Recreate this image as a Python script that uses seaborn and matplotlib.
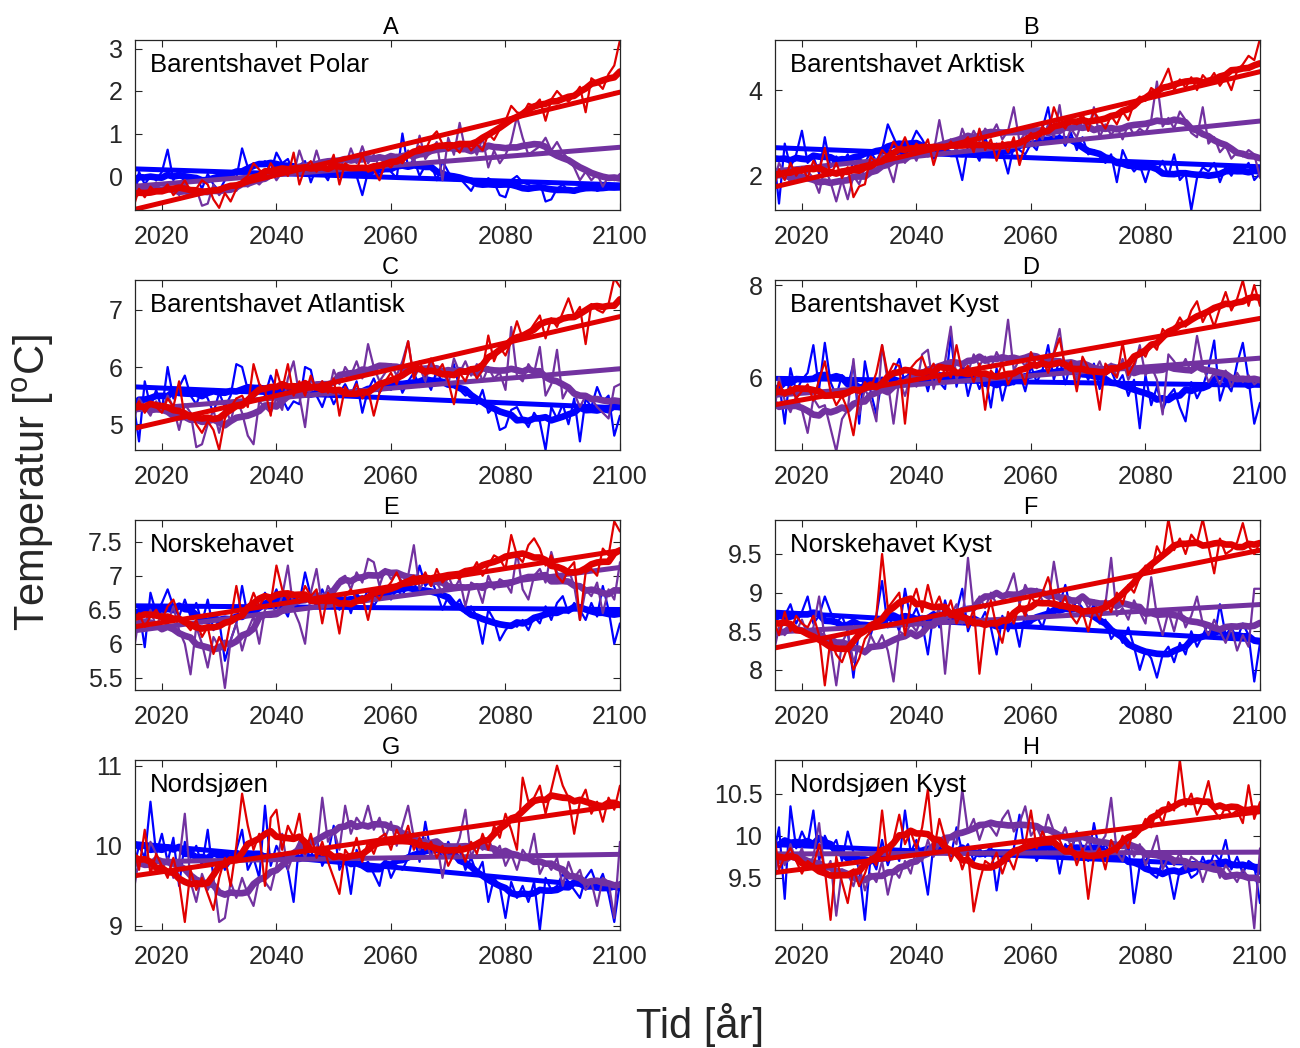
import numpy as np
import pandas as pd
import matplotlib
matplotlib.use("Agg")
import matplotlib.pyplot as plt
import seaborn as sns

years = list(range(2015, 2101))

# ---- A: Barentshavet Polar ----
a_blue = [-0.70, 0.10, -0.20, 0.00, -0.10, 0.10, 0.62, -0.10, 0.15, -0.20,
          -0.10, 0.00, -0.30, 0.05, -0.20, -0.35, -0.10, 0.05, -0.05, 0.65,
          0.20, 0.30, 0.25, 0.35, 0.10, 0.55, 0.30, 0.40, 0.05, 0.25,
          0.35, -0.15, 0.20, 0.10, -0.10, 0.30, 0.05, 0.20, 0.15, 0.00,
          -0.45, 0.10, 0.20, 0.00, 0.30, 0.10, -0.05, 1.00, 0.20, 0.40,
          0.00, 0.25, 0.30, -0.10, 0.35, 0.10, -0.10, -0.05, -0.20, -0.35,
          -0.10, -0.20, -0.05, -0.15, -0.45, -0.50, -0.10, 0.00, -0.15, -0.20,
          -0.30, -0.15, -0.60, -0.55, -0.30, -0.20, -0.35, -0.40, -0.25, -0.30,
          -0.20, -0.35, -0.30, -0.20, -0.30, -0.25]
a_purple = [-0.65, -0.30, -0.20, -0.35, -0.15, -0.40, -0.25, -0.30, -0.45, -0.20,
            -0.35, -0.30, -0.70, -0.65, -0.20, -0.45, -0.30, -0.20, -0.35, -0.15,
            -0.25, -0.10, -0.20, -0.05, 0.15, -0.10, 0.10, 0.20, 0.05, 0.60,
            0.20, 0.10, 0.60, 0.15, 0.35, 0.25, 0.40, 0.20, 0.65, 0.30,
            0.70, 0.30, 0.50, 0.20, 0.45, 0.35, 0.50, 0.30, 0.60, 0.30,
            0.95, 0.40, 0.60, 0.80, -0.10, 0.90, 0.50, 1.25, 0.60, 0.80,
            0.50, 0.90, 0.20, 0.60, 0.30, 0.50, 0.80, 1.40, 0.90, 0.50,
            0.60, 0.70, 0.90, 0.60, 0.80, 0.55, 0.40, 0.20, -0.10, 0.10,
            -0.10, 0.05, -0.25, 0.00, -0.10, 0.05]
a_red = [-0.75, -0.30, -0.50, -0.25, -0.40, -0.35, -0.20, -0.45, -0.30, -0.10,
         -0.35, -0.30, -0.10, -0.20, -0.55, -0.75, -0.40, -0.60, -0.30, -0.10,
         0.00, 0.30, 0.15, 0.00, 0.30, 0.10, 0.20, 0.00, 0.55, -0.20,
         0.20, 0.35, 0.10, 0.30, 0.15, 0.50, -0.20, 0.30, 0.20, 0.15,
         0.50, 0.10, 0.15, -0.10, 0.30, 0.20, 0.40, 0.30, 0.50, 0.60,
         0.70, 0.60, 0.90, 1.05, 0.75, 0.60, 0.70, 0.55, 0.80, 0.60,
         0.75, 0.60, 1.00, 0.85, 1.10, 1.30, 1.65, 1.50, 1.45, 1.70,
         1.65, 1.80, 1.30, 1.80, 2.00, 1.85, 1.75, 1.90, 2.10, 1.50,
         2.30, 2.20, 2.05, 2.40, 2.60, 3.20]

# ---- B: Barentshavet Arktisk ----
b_blue = [2.6, 1.35, 2.75, 2.2, 2.5, 3.05, 2.3, 2.45, 2.05, 2.9,
          2.2, 2.45, 2.3, 2.5, 2.15, 2.4, 2.3, 2.55, 2.35, 2.6,
          3.2, 2.9, 2.6, 2.8, 2.75, 3.05, 2.85, 2.6, 2.4, 2.55,
          2.7, 2.5, 2.45, 1.9, 2.7, 2.6, 2.35, 2.9, 2.5, 2.75,
          2.55, 2.05, 2.7, 2.6, 2.5, 2.75, 2.6, 3.1, 3.6, 2.8,
          2.95, 2.7, 3.0, 2.6, 2.9, 2.5, 2.6, 2.45, 2.3, 2.5,
          1.85, 2.6, 2.3, 2.1, 2.25, 1.85, 2.3, 2.1, 2.35, 2.0,
          2.5, 1.9, 2.05, 1.2, 1.95, 2.2, 2.1, 2.3, 1.85, 2.2,
          2.0, 2.25, 2.1, 2.3, 1.9, 2.05]
b_purple = [1.75, 2.3, 2.05, 1.85, 2.15, 1.9, 2.1, 1.95, 1.6, 2.2,
            1.85, 1.4, 1.9, 1.45, 2.0, 1.8, 2.2, 2.35, 2.1, 2.5,
            2.25, 1.85, 2.5, 2.3, 2.6, 2.35, 2.7, 2.45, 2.55, 3.3,
            2.6, 2.85, 2.55, 3.1, 2.75, 3.05, 2.8, 3.1, 2.95, 3.2,
            2.85, 3.05, 3.6, 2.8, 3.0, 2.7, 3.1, 2.85, 3.2, 2.9,
            3.65, 2.75, 3.1, 2.9, 3.3, 3.05, 3.6, 2.9, 3.2, 2.95,
            3.15, 2.85, 3.2, 2.95, 3.1, 3.0, 3.3, 4.2, 3.15, 3.35,
            3.1, 3.5, 3.3, 3.0, 2.9, 3.6, 2.75, 2.9, 2.55, 2.7,
            2.4, 2.55, 2.45, 2.6, 2.5, 1.95]
b_red = [1.7, 2.15, 1.9, 2.3, 2.0, 2.2, 1.95, 2.35, 2.1, 2.65,
         2.0, 2.3, 1.95, 2.2, 1.5, 1.75, 1.8, 2.45, 2.3, 2.6,
         2.45, 2.8, 2.6, 2.9, 2.55, 2.75, 2.6, 2.85, 2.25, 2.7,
         2.6, 2.8, 2.65, 2.75, 2.9, 2.55, 3.1, 2.6, 2.85, 2.35,
         2.8, 2.55, 2.9, 2.25, 2.75, 3.0, 2.85, 3.15, 3.0, 3.6,
         3.25, 3.1, 3.35, 3.2, 3.45, 3.05, 3.5, 3.3, 3.1, 3.4,
         3.2, 3.5, 3.3, 3.7, 3.85, 3.75, 4.05, 3.95, 4.2, 4.5,
         4.0, 4.25, 4.05, 4.3, 4.0, 4.35, 4.2, 4.4, 4.1, 4.3,
         4.0, 4.45, 4.6, 4.8, 4.7, 5.2]

# ---- C: Barentshavet Atlantisk ----
c_blue = [5.4, 4.7, 5.75, 5.3, 5.6, 5.25, 6.0, 5.45, 5.65, 5.85,
          5.5, 5.35, 5.6, 5.45, 5.2, 5.55, 5.3, 5.5, 6.05, 6.0,
          5.6, 5.45, 5.7, 5.5, 5.85, 5.6, 5.45, 5.25, 5.4, 5.35,
          6.0, 5.95, 5.5, 5.3, 5.6, 5.35, 5.55, 5.7, 5.5, 5.75,
          5.2, 5.6, 5.8, 5.55, 5.7, 5.6, 5.85, 5.55, 5.75, 5.9,
          5.65, 5.8, 5.6, 5.95, 5.7, 5.85, 6.05, 5.6, 5.5, 5.55,
          5.35, 5.6, 5.2, 5.3, 4.9, 4.95, 5.25, 5.3, 5.1, 4.95,
          5.2, 5.05, 4.55, 5.3, 5.1, 5.35, 5.0, 5.45, 4.7, 5.45,
          5.3, 5.65, 5.4, 5.5, 4.8, 5.15]
c_purple = [5.0, 5.45, 5.3, 5.15, 5.4, 5.25, 5.5, 5.3, 4.9, 5.35,
            5.2, 4.6, 4.65, 5.0, 5.25, 4.85, 5.3, 5.05, 5.45, 5.2,
            4.8, 4.65, 5.4, 5.3, 5.2, 5.45, 5.25, 5.8, 6.1, 5.5,
            4.95, 5.8, 5.6, 5.75, 5.5, 5.95, 5.7, 6.0, 5.85, 6.1,
            5.8, 6.4, 6.0, 5.75, 5.9, 6.05, 5.85, 6.1, 6.45, 5.8,
            6.0, 5.75, 6.1, 5.85, 5.95, 5.7, 6.15, 5.9, 6.1, 5.85,
            6.05, 5.75, 6.0, 5.8, 5.9, 5.6, 6.7, 5.85, 5.75, 6.05,
            5.9, 6.35, 5.5, 5.7, 6.3, 5.45, 5.65, 5.55, 5.3, 5.5,
            5.45, 5.3, 5.2, 5.1, 5.65, 5.7]
c_red = [5.25, 5.4, 5.2, 5.35, 5.3, 5.2, 5.45, 5.3, 5.75, 5.1,
         5.2, 5.0, 4.85, 5.05, 4.9, 4.55, 5.1, 5.3, 5.45, 5.5,
         5.3, 6.05, 5.7, 5.6, 5.15, 5.95, 5.6, 6.05, 5.5, 5.75,
         5.5, 5.85, 5.6, 5.75, 5.55, 5.8, 5.15, 5.65, 5.5, 5.7,
         5.45, 5.6, 5.15, 5.55, 5.75, 5.9, 5.7, 6.0, 6.45, 5.8,
         6.1, 5.85, 6.15, 5.9, 6.05, 5.75, 5.35, 5.9, 5.75, 6.0,
         5.8, 5.95, 6.55, 6.1, 6.35, 6.2, 6.45, 6.8, 6.5, 6.6,
         6.75, 6.9, 6.5, 6.85, 6.7, 6.95, 7.2, 6.9, 7.05, 6.4,
         7.1, 7.0, 6.95, 7.1, 7.55, 7.4]

# ---- D: Barentshavet Kyst ----
d_blue = [5.6, 5.9, 5.0, 6.2, 5.7, 5.95, 6.1, 6.7, 5.75, 6.75,
          5.9, 5.6, 6.05, 5.8, 6.3, 5.0, 6.35, 5.7, 5.2, 6.0,
          5.7, 6.1, 6.4, 5.85, 6.2, 5.95, 6.15, 5.7, 6.25, 5.9,
          5.75, 6.9, 5.8, 6.3, 5.6, 6.1, 5.75, 6.05, 5.35, 6.2,
          5.5, 6.0, 5.85, 6.1, 5.7, 6.25, 5.9, 6.15, 6.7, 5.95,
          6.4, 5.85, 6.35, 5.8, 6.2, 5.95, 6.3, 5.75, 6.05, 6.15,
          5.85, 6.05, 5.6, 5.95, 4.9, 6.05, 5.4, 5.8, 5.3, 5.6,
          5.75, 5.35, 5.05, 5.9, 5.55, 5.8, 6.2, 6.8, 5.5, 5.9,
          5.7, 6.3, 6.75, 5.95, 5.0, 5.45]
d_purple = [5.1, 6.0, 5.5, 5.25, 5.6, 5.3, 4.8, 5.55, 5.35, 5.4,
            4.9, 4.4, 5.1, 5.3, 6.4, 5.2, 5.75, 5.5, 5.05, 6.7,
            5.9, 5.0, 5.95, 5.6, 6.05, 5.8, 6.5, 6.6, 5.75, 6.2,
            6.35, 7.1, 5.95, 6.3, 6.1, 6.5, 6.25, 6.45, 6.2, 6.55,
            6.3, 7.25, 6.15, 6.4, 6.25, 6.5, 6.2, 6.45, 6.1, 6.55,
            7.05, 6.1, 6.35, 5.95, 6.4, 6.2, 6.1, 6.35, 6.05, 6.3,
            6.0, 6.4, 5.95, 6.2, 6.7, 6.05, 6.25, 5.95, 5.2, 6.5,
            6.35, 6.15, 6.4, 6.1, 6.9, 6.25, 5.9, 6.1, 5.85, 6.15,
            5.8, 6.1, 5.9, 6.05, 5.85, 5.95]
d_red = [5.45, 5.9, 5.6, 5.8, 5.55, 5.7, 5.85, 5.5, 5.95, 6.35,
         5.7, 5.4, 5.6, 5.3, 4.75, 5.6, 5.9, 5.75, 6.1, 6.7,
         6.05, 6.3, 6.25, 5.0, 6.2, 6.35, 6.45, 6.1, 6.3, 5.9,
         6.2, 6.0, 6.7, 6.1, 6.25, 5.9, 6.3, 5.3, 6.15, 6.0,
         6.3, 5.85, 6.1, 6.2, 5.85, 6.55, 6.25, 6.4, 6.1, 6.5,
         6.85, 6.2, 6.35, 5.7, 6.45, 6.2, 6.05, 5.3, 6.3, 6.15,
         6.0, 6.75, 6.05, 6.3, 6.6, 6.45, 6.75, 6.6, 7.05, 6.9,
         7.05, 7.3, 7.1, 7.45, 7.65, 7.2, 7.45, 7.1, 7.5, 7.85,
         7.45, 7.7, 8.1, 7.55, 8.0, 7.55]

# ---- E: Norskehavet ----
e_blue = [6.3, 6.5, 5.95, 6.75, 6.45, 6.6, 6.8, 6.55, 6.4, 6.65,
          6.4, 6.6, 6.3, 6.65, 6.2, 6.35, 5.75, 6.05, 6.3, 6.85,
          6.4, 6.6, 6.5, 6.75, 6.6, 6.8, 6.55, 6.4, 6.75, 6.6,
          7.05, 6.7, 6.55, 6.8, 6.6, 6.75, 6.5, 6.7, 6.45, 6.75,
          6.6, 6.8, 6.55, 6.7, 6.85, 6.65, 6.8, 6.7, 6.9, 6.75,
          7.15, 6.85, 6.95, 6.75, 6.5, 6.7, 6.55, 6.65, 6.45, 6.55,
          6.4, 6.0, 6.5, 6.35, 6.05, 6.2, 6.3, 6.25, 6.35, 6.2,
          6.4, 6.3, 6.55, 6.35, 6.6, 6.7, 6.45, 6.6, 6.5, 6.35,
          6.6, 6.4, 6.85, 6.5, 6.0, 6.3]
e_purple = [5.85, 6.4, 6.3, 6.5, 6.25, 6.45, 6.3, 6.55, 6.2, 6.0,
            5.55, 6.25, 6.0, 5.65, 6.1, 5.95, 5.35, 6.05, 6.3, 5.9,
            6.2, 6.4, 6.0, 6.5, 6.6, 6.45, 6.7, 7.15, 6.5, 6.3,
            6.0, 6.75, 7.1, 6.55, 6.85, 6.7, 6.95, 7.0, 6.8, 7.05,
            6.9, 7.25, 7.2, 6.85, 7.1, 6.95, 7.05, 6.9, 7.0, 7.45,
            6.8, 6.95, 6.85, 6.9, 6.75, 7.0, 6.8, 6.95, 6.55, 6.9,
            6.85, 6.6, 7.0, 6.8, 6.95, 6.9, 6.75, 7.35, 6.8, 6.65,
            7.0, 7.1, 6.9, 7.35, 7.05, 6.95, 7.1, 6.85, 6.35, 6.8,
            6.7, 6.9, 6.45, 6.8, 6.65, 7.2]
e_red = [6.3, 6.45, 6.25, 6.4, 6.5, 6.35, 6.55, 6.65, 6.4, 6.3,
         6.2, 6.35, 6.1, 6.25, 5.85, 6.1, 5.9, 6.35, 6.85, 6.4,
         6.5, 6.75, 6.55, 6.7, 6.6, 7.15, 6.8, 6.65, 6.75, 6.6,
         6.85, 6.7, 6.8, 6.3, 6.75, 6.6, 6.15, 6.7, 6.8, 6.65,
         6.7, 6.35, 6.75, 6.65, 6.8, 6.9, 7.05, 6.85, 6.95, 7.0,
         6.9, 7.05, 6.85, 7.1, 6.9, 7.0, 7.0, 6.95, 7.1, 7.05,
         7.2, 7.0, 7.15, 7.3, 7.25, 7.1, 7.6, 7.3, 7.2, 7.45,
         7.55, 7.4, 7.15, 7.3, 7.0, 6.9, 7.1, 7.2, 6.35, 7.05,
         7.1, 7.0, 7.4, 7.3, 7.8, 7.65]

# ---- F: Norskehavet Kyst ----
f_blue = [8.6, 8.45, 8.7, 8.85, 8.6, 8.75, 8.95, 8.6, 8.7, 8.95,
          8.75, 8.6, 8.7, 8.5, 7.9, 8.55, 8.6, 8.45, 8.7, 9.15,
          8.55, 8.7, 8.5, 9.05, 8.65, 8.8, 8.6, 8.2, 8.75, 8.55,
          8.9, 8.6, 8.75, 9.05, 8.5, 8.7, 8.6, 8.75, 8.55, 8.2,
          8.7, 8.5, 8.65, 8.3, 8.75, 8.6, 8.7, 8.55, 8.8, 8.7,
          8.85, 9.1, 8.75, 8.9, 8.8, 8.7, 8.85, 8.6, 8.65, 8.4,
          8.5, 8.35, 8.55, 8.3, 8.0, 8.25, 8.15, 7.9, 8.2, 8.3,
          8.1, 8.35, 8.2, 8.5, 8.3, 8.45, 8.6, 8.4, 8.85, 8.45,
          8.55, 8.4, 8.6, 8.45, 7.85, 8.35]
f_purple = [8.2, 8.55, 8.45, 8.6, 8.5, 8.65, 8.45, 8.55, 8.95, 8.4,
            8.3, 7.8, 8.35, 8.5, 8.1, 8.3, 8.2, 8.45, 8.3, 8.45,
            8.25, 7.85, 8.5, 8.45, 8.6, 8.5, 8.7, 8.55, 8.65, 8.8,
            7.95, 8.7, 8.85, 8.6, 9.45, 8.75, 8.95, 8.8, 9.0, 8.85,
            8.9, 9.05, 9.25, 8.85, 9.1, 8.95, 9.05, 8.9, 8.85, 9.4,
            8.95, 8.8, 8.9, 8.75, 8.95, 8.8, 8.9, 8.7, 8.85, 9.45,
            8.7, 8.8, 8.65, 8.9, 8.75, 8.6, 9.2, 8.7, 8.45, 8.75,
            8.5, 8.8, 8.55, 8.7, 8.95, 8.6, 8.45, 8.65, 8.5, 8.35,
            8.55, 8.25, 8.45, 8.3, 9.05, 9.05]
f_red = [8.65, 8.45, 8.75, 8.5, 8.7, 8.6, 8.55, 8.7, 8.45, 7.8,
         8.4, 8.2, 8.1, 8.3, 8.0, 8.15, 8.4, 8.5, 8.7, 9.5,
         8.8, 8.9, 9.0, 8.45, 8.85, 9.05, 8.75, 9.1, 8.8, 8.95,
         8.7, 8.9, 8.6, 8.75, 8.55, 8.8, 7.95, 8.6, 8.9, 8.55,
         8.35, 8.75, 8.6, 8.85, 8.7, 8.95, 8.85, 9.0, 9.2, 8.9,
         8.8, 8.95, 8.7, 8.6, 8.75, 8.5, 8.8, 8.65, 8.9, 8.75,
         9.0, 8.85, 9.1, 9.0, 9.2, 9.35, 9.25, 9.6, 9.45, 9.95,
         9.55, 9.7, 9.5, 9.75, 9.65, 9.95, 9.6, 9.25, 9.7, 9.5,
         9.55, 9.65, 9.9, 9.6, 9.5, 9.65]

# ---- G: Nordsjøen ----
g_blue = [9.7, 10.0, 9.85, 10.55, 9.9, 10.15, 9.8, 10.1, 9.5, 10.05,
          9.85, 10.0, 9.75, 10.2, 9.6, 9.9, 9.7, 9.8, 9.95, 10.2,
          9.7, 9.85, 9.6, 10.5, 9.75, 10.0, 9.85, 9.7, 9.3, 10.05,
          9.95, 9.85, 10.1, 9.75, 9.9, 10.25, 9.7, 9.85, 9.4, 9.95,
          9.75, 9.8, 9.65, 9.5, 9.85, 9.6, 9.75, 9.7, 9.85, 10.15,
          9.8, 10.3, 9.9, 10.0, 9.85, 10.05, 9.9, 9.95, 9.7, 9.85,
          9.65, 9.8, 9.3, 9.6, 9.5, 9.1, 9.55, 9.35, 9.5, 9.3,
          9.55, 8.95, 9.6, 9.45, 9.5, 9.65, 9.55, 9.45, 9.35, 9.6,
          9.7, 9.5, 9.65, 9.4, 9.05, 9.55]
g_purple = [9.4, 9.85, 9.75, 10.05, 9.9, 9.7, 9.85, 9.6, 9.8, 10.4,
            9.55, 9.3, 9.65, 9.45, 9.6, 9.05, 9.1, 9.55, 9.35, 9.6,
            9.4, 9.25, 9.6, 9.55, 9.45, 9.75, 10.15, 9.7, 9.9, 10.05,
            9.85, 10.1, 9.9, 10.6, 10.05, 10.2, 9.95, 10.5, 10.15, 10.35,
            10.25, 10.5, 10.2, 10.35, 10.1, 10.3, 10.0, 10.25, 10.5, 10.1,
            9.95, 10.1, 9.85, 10.05, 9.6, 10.0, 9.9, 10.1, 10.45, 9.85,
            10.05, 9.95, 10.1, 9.9, 10.0, 9.75, 9.9, 9.7, 9.95, 9.85,
            10.15, 9.65, 9.8, 9.7, 9.85, 9.5, 9.8, 9.6, 9.7, 9.45,
            9.55, 9.25, 9.6, 9.55, 9.1, 10.05]
g_red = [10.0, 9.7, 10.2, 9.65, 9.9, 9.75, 9.6, 9.85, 9.55, 9.05,
         9.7, 9.45, 9.6, 9.4, 9.2, 9.6, 9.85, 9.5, 10.0, 10.65,
         10.25, 9.95, 10.15, 9.5, 10.35, 10.45, 9.95, 10.25, 10.1, 10.4,
         9.9, 10.15, 9.85, 10.05, 9.8, 9.6, 9.4, 9.95, 9.85, 10.1,
         9.8, 10.05, 9.9, 10.1, 10.15, 9.95, 10.2, 10.05, 10.25, 9.95,
         10.1, 9.95, 10.05, 9.85, 10.0, 9.75, 9.9, 10.0, 9.8, 10.05,
         9.9, 10.15, 9.95, 10.25, 10.1, 10.4, 10.2, 9.95, 10.85, 10.55,
         10.6, 10.75, 10.4, 10.7, 11.0, 10.75, 10.6, 10.15, 10.55, 10.7,
         10.4, 10.55, 10.3, 10.6, 10.45, 10.75]

# ---- H: Nordsjøen Kyst ----
h_blue = [9.75, 10.1, 9.25, 10.35, 9.85, 10.05, 9.9, 10.3, 9.7, 10.0,
          9.85, 9.95, 9.7, 10.05, 9.8, 9.6, 9.0, 9.75, 9.6, 9.95,
          9.65, 9.85, 9.7, 10.3, 9.8, 9.95, 9.7, 9.3, 9.9, 9.85,
          9.95, 9.75, 10.1, 9.8, 9.9, 9.7, 9.85, 9.75, 9.9, 9.35,
          9.8, 9.7, 9.85, 10.25, 9.75, 9.9, 9.7, 9.85, 9.8, 9.95,
          9.55, 9.9, 9.8, 10.05, 9.85, 9.7, 10.15, 9.8, 9.9, 9.75,
          9.85, 9.7, 9.9, 9.2, 9.65, 9.8, 9.55, 9.5, 9.7, 9.6,
          9.25, 9.6, 9.65, 9.5, 9.55, 9.75, 9.6, 9.8, 9.7, 9.95,
          9.6, 9.75, 9.55, 9.7, 9.65, 9.2]
h_purple = [9.4, 9.8, 9.65, 9.9, 9.7, 9.85, 9.6, 9.75, 10.15, 9.55,
            9.7, 9.05, 9.6, 9.55, 9.4, 9.65, 9.35, 9.55, 9.45, 9.7,
            9.3, 9.6, 9.5, 9.7, 9.55, 9.85, 9.7, 9.95, 9.75, 9.9,
            9.85, 10.0, 9.9, 10.55, 10.05, 10.2, 9.95, 10.15, 10.1, 10.0,
            10.2, 10.3, 10.05, 10.15, 10.35, 10.0, 10.1, 9.95, 10.25, 10.05,
            9.95, 10.1, 9.85, 10.05, 9.8, 9.95, 9.75, 9.9, 10.0, 10.45,
            9.8, 9.7, 9.95, 9.75, 9.9, 9.65, 9.8, 10.0, 9.6, 9.75,
            9.65, 9.8, 9.6, 9.75, 9.7, 9.45, 9.65, 9.7, 9.5, 9.65,
            9.55, 9.45, 9.6, 9.5, 8.9, 9.85]
h_red = [10.1, 9.6, 9.75, 9.85, 9.7, 9.55, 9.7, 9.65, 9.9, 9.6,
         9.0, 9.75, 9.45, 9.2, 9.6, 9.4, 9.55, 9.75, 9.65, 10.3,
         9.7, 9.95, 10.25, 9.9, 10.05, 9.85, 10.1, 10.55, 9.8, 10.2,
         9.95, 9.7, 9.85, 9.6, 9.8, 9.1, 9.45, 9.7, 9.65, 9.8,
         9.55, 9.75, 9.6, 9.85, 9.9, 10.3, 9.85, 10.05, 9.9, 10.0,
         9.95, 9.8, 9.9, 9.65, 9.85, 9.25, 9.75, 9.85, 9.6, 9.95,
         9.8, 10.0, 9.85, 10.1, 10.05, 10.2, 10.1, 10.3, 10.15, 10.4,
         10.3, 10.9, 10.35, 10.5, 10.25, 10.4, 10.65, 10.3, 10.2, 10.35,
         10.25, 10.3, 10.15, 10.6, 10.2, 10.4]

panel_letters = ["A", "B", "C", "D", "E", "F", "G", "H"]
panel_names = ["Barentshavet Polar", "Barentshavet Arktisk", "Barentshavet Atlantisk",
               "Barentshavet Kyst", "Norskehavet", "Norskehavet Kyst",
               "Nordsjøen", "Nordsjøen Kyst"]
series = [(a_blue, a_purple, a_red), (b_blue, b_purple, b_red),
          (c_blue, c_purple, c_red), (d_blue, d_purple, d_red),
          (e_blue, e_purple, e_red), (f_blue, f_purple, f_red),
          (g_blue, g_purple, g_red), (h_blue, h_purple, h_red)]
ylims = [(-0.8, 3.2), (1.2, 5.17), (4.55, 7.52), (4.43, 8.11),
         (5.32, 7.82), (7.74, 9.94), (8.95, 11.07), (8.88, 10.9)]
yticks = [[0, 1, 2, 3], [2, 4], [5, 6, 7], [6, 8],
          [5.5, 6, 6.5, 7, 7.5], [8, 8.5, 9, 9.5], [9, 10, 11], [9.5, 10, 10.5]]
colors = ["#0000ff", "#7232a0", "#e00000"]

sns.set_style("ticks")
plt.rcParams["font.family"] = ["Liberation Sans", "DejaVu Sans"]
plt.rcParams["axes.edgecolor"] = "#262626"
plt.rcParams["xtick.color"] = "#262626"
plt.rcParams["ytick.color"] = "#262626"

fig = plt.figure(figsize=(13, 10.48), dpi=100)
lefts = [135 / 1300, 775 / 1300]
w = 485 / 1300
h = 170 / 1048
tops = [40, 280, 520, 760]

for i in range(8):
    r, c = divmod(i, 2)
    ax = fig.add_axes([lefts[c], 1 - (tops[r] + 170) / 1048, w, h])
    for vals, col in zip(series[i], colors):
        df = pd.DataFrame({"year": years, "temp": vals})
        df["smooth"] = df["temp"].rolling(11, center=True, min_periods=1).mean()
        sns.lineplot(data=df, x="year", y="temp", ax=ax, color=col, lw=1.6,
                     estimator=None, legend=False)
        sns.lineplot(data=df, x="year", y="smooth", ax=ax, color=col, lw=4.8,
                     estimator=None, legend=False)
        sns.regplot(data=df, x="year", y="temp", ax=ax, scatter=False, ci=None,
                    color=col, line_kws={"lw": 3.6})
    ax.set_xlim(2015.3, 2100)
    ax.set_ylim(*ylims[i])
    ax.set_xticks([2020, 2040, 2060, 2080, 2100])
    ax.set_yticks(yticks[i])
    ax.set_yticklabels([f"{t:g}" for t in yticks[i]])
    ax.tick_params(direction="in", length=5, width=0.8, labelsize=18,
                   top=True, right=True, pad=9)
    ax.tick_params(axis="x", pad=11)
    for s in ax.spines.values():
        s.set_linewidth(0.9)
    ax.set_xlabel("")
    ax.set_ylabel("")
    ax.text(0.527, 1.035, panel_letters[i], transform=ax.transAxes,
            fontsize=17, ha="center", va="baseline", color="black")
    ax.text(0.031, 0.855, panel_names[i], transform=ax.transAxes,
            fontsize=18.5, va="center", ha="left", color="black")

fig.text(33 / 1300, 1 - 483 / 1048, "Temperatur [$\\mathregular{^{o}}$C]",
         rotation=90, fontsize=30, ha="center", va="center", color="#262626")
fig.text(700 / 1300, 1 - 1025 / 1048, "Tid [år]", fontsize=30,
         ha="center", va="center", color="#262626")

fig.savefig("out.png", dpi=100)
